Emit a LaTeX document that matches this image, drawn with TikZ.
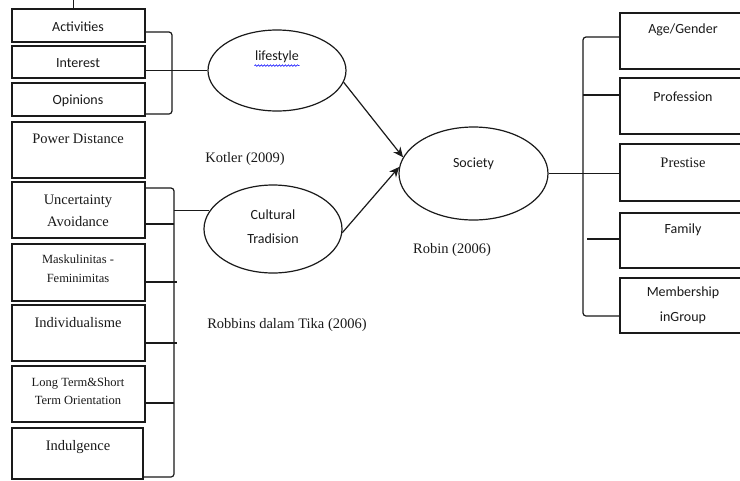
\documentclass[tikz,border=0pt]{standalone}
\usepackage{fontspec}
\setmainfont{Liberation Serif}
\newfontfamily\calfont{Carlito}
\usetikzlibrary{arrows.meta,shapes.geometric,decorations.pathmorphing}
\definecolor{ink}{HTML}{1A1A1A}
\begin{document}
\begin{tikzpicture}[x=1pt,y=-1pt,line width=1.2pt,draw=ink,
  box/.style={draw=ink,rectangle,inner sep=0pt,fill=white},
  oval/.style={draw=ink,ellipse,inner sep=0pt},
  sans/.style={font=\calfont\fontsize{14}{22}\selectfont,inner sep=0pt,align=center,text=ink},
  serif/.style={font=\fontsize{14.5}{22}\selectfont,inner sep=0pt,align=center,text=ink},
  small/.style={font=\fontsize{12.5}{19}\selectfont,inner sep=0pt,align=center,text=ink},
  brk/.style={draw=ink,rounded corners=3pt},
  arr/.style={draw=ink,-{Stealth[length=10pt,width=9pt]}}]
\clip (0,0) rectangle (740,480);
\fill[white] (0,0) rectangle (740,480);
% left boxes
\node[box,minimum width=133,minimum height=33] (act) at (78.5,25.5) {};
\node[box,minimum width=133,minimum height=32] (int) at (78.5,62) {};
\node[box,minimum width=133,minimum height=33] (opi) at (78.5,99.5) {};
\node[box,minimum width=133,minimum height=56] (pow) at (78.5,150) {};
\node[box,minimum width=133,minimum height=56] (unc) at (78.5,210) {};
\node[box,minimum width=133,minimum height=57] (mas) at (78.5,272.5) {};
\node[box,minimum width=133,minimum height=56] (ind) at (78.5,333) {};
\node[box,minimum width=133,minimum height=56] (lon) at (78.5,394) {};
\node[box,minimum width=131,minimum height=51] (indu) at (77.5,453.5) {};
\coordinate (topend) at (73,0);
\draw[line width=0.8pt] (topend) -- (act.north -| topend);
% left texts
\node[sans] (tact) at (78,27) {Activities};
\node[sans] (tint) at (78,63) {Interest};
\node[sans] (topi) at (78,101) {Opinions};
\node[serif] (tpow) at (78,139) {Power Distance};
\node[serif] (tunc) at (78,211) {Uncertainty\\Avoidance};
\node[small] (tmas) at (78,268.5) {Maskulinitas -\\Feminimitas};
\node[serif] (tind) at (78,323) {Individualisme};
\node[small,font=\fontsize{12.5}{18}\selectfont] (tlon) at (78,391) {Long Term\&Short\\Term Orientation};
\node[serif] (tindu) at (78,447) {Indulgence};
% ellipses
\node[oval,minimum width=138,minimum height=81] (life) at (277,70.5) {};
\node[oval,minimum width=138,minimum height=88] (cult) at (273,229) {};
\node[oval,minimum width=149,minimum height=93] (soc) at (473.5,173.5) {};
\node[sans] (tlife) at (277,57) {lifestyle};
\draw[blue,line width=0.6pt,decorate,decoration={snake,amplitude=0.8pt,segment length=3pt}]
  ([yshift=-2pt]tlife.south west) -- ([yshift=-2pt]tlife.south east);
\node[sans,font=\calfont\fontsize{14}{24}\selectfont] (tcult) at (273,227) {Cultural\\Tradision};
\node[sans] (tsoc) at (473.5,164) {Society};
% free labels
\node[serif] (kot) at (245,159) {Kotler (2009)};
\node[serif] (rob) at (287,325) {Robbins dalam Tika (2006)};
\node[serif] (robin) at (452,250) {Robin (2006)};
% bracket 1
\coordinate (b1t) at (172,32);
\coordinate (b1b) at (172,114);
\draw[brk] (act.east |- b1t) -- (b1t) -- (b1b) -- (opi.east |- b1b);
\draw (int.east |- life.west) -- (life.west);
% bracket 2
\coordinate (b2t) at (174,188);
\coordinate (b2b) at (174,477);
\draw[brk] (unc.east |- b2t) -- (b2t) -- (b2b) -- (indu.east |- b2b);
\draw (unc.east |- 0,224) -- (b2t |- 0,224);
\draw (mas.east |- 0,282) -- (177,282);
\draw (ind.east |- 0,343) -- (177,343);
\draw (lon.east |- 0,403) -- (b2t |- 0,403);
\path (cult.164) coordinate (cw);
\draw (b2t |- cw) -- (cw);
% arrows
\draw[arr] (life.-10) -- (soc.167);
\draw[arr] (cult.-3) -- (soc.175);
% right side
\node[box,minimum width=140,minimum height=56] (age) at (690,41) {};
\node[box,minimum width=140,minimum height=56] (prof) at (690,106) {};
\node[box,minimum width=140,minimum height=57] (pres) at (690,172.5) {};
\node[box,minimum width=140,minimum height=55] (fam) at (690,240.5) {};
\node[box,minimum width=140,minimum height=55] (mem) at (690,305.5) {};
\node[sans] (tage) at (683,30) {Age/Gender};
\node[sans] (tprof) at (683,97) {Profession};
\node[serif] (tpres) at (683,163) {Prestise};
\node[sans] (tfam) at (683,230) {Family};
\node[sans,font=\calfont\fontsize{14}{25}\selectfont] (tmem) at (683,305.5) {Membership\\inGroup};
\coordinate (b3t) at (583,37);
\coordinate (b3b) at (583,316);
\draw[brk] (age.west |- b3t) -- (b3t) -- (b3b) -- (mem.west |- b3b);
\draw (soc.east) -- (prof.west |- soc.east);
\draw (b3t |- 0,95) -- (prof.west |- 0,95);
\draw (587,239) -- (fam.west |- 0,239);
\end{tikzpicture}
\end{document}
